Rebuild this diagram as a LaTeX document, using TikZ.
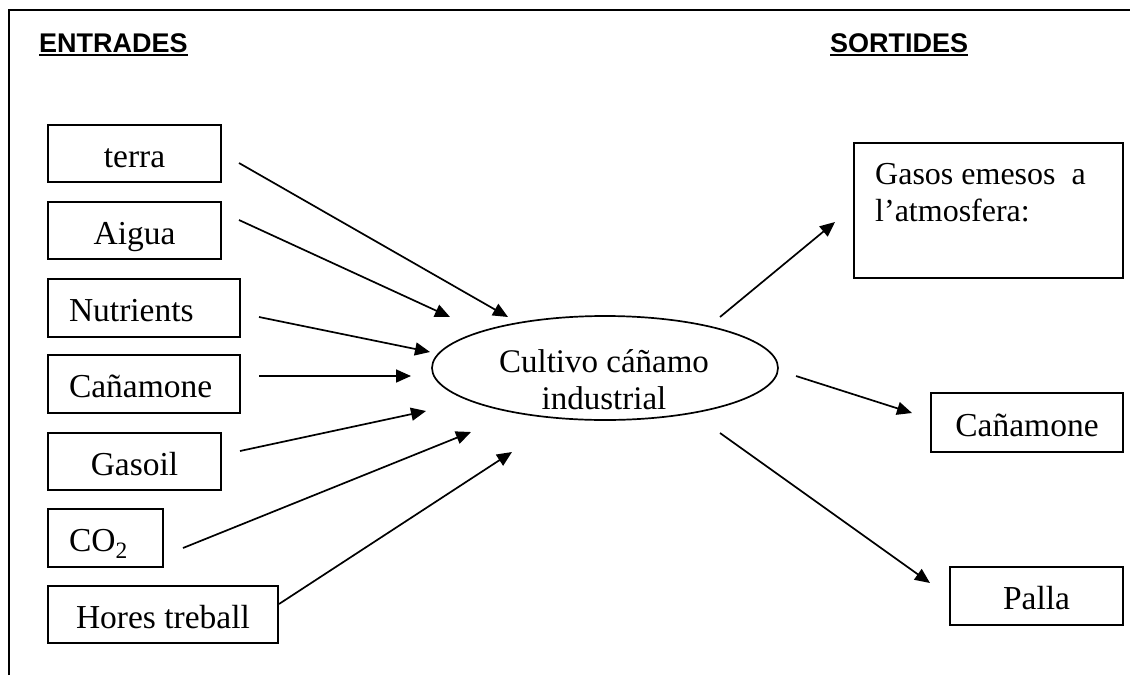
\documentclass[tikz,border=0pt]{standalone}
\usepackage{fontspec}
\setmainfont{Liberation Serif}
\newfontfamily\hdfont{Liberation Sans}
\usetikzlibrary{arrows.meta,shapes.geometric}
\begin{document}
\begin{tikzpicture}[x=1pt,y=-1pt,
  frameline/.style={line width=1.5pt},
  inbox/.style={draw, line width=1.8pt, inner sep=0pt, text height=27pt, text depth=0pt, font=\fontsize{33.5}{40}\selectfont},
  leftbox/.style={inbox, align=left, inner xsep=21pt},
  flow/.style={line width=1.7pt, -{Triangle[length=15pt,width=13pt]}},
  hdr/.style={inner sep=0pt, anchor=base west, font=\hdfont\bfseries\fontsize{27}{32}\selectfont},
  uline/.style={line width=2.5pt}]
\useasboundingbox (0,0) rectangle (1130,675);
% frame
\draw[frameline] (9,675) -- (9,10) -- (1130,10);
% headers
\node[hdr] (entr) at (39,52) {ENTRADES};
\node[hdr] (sort) at (830,52) {SORTIDES};
\draw[uline] ([yshift=-3pt]entr.base west) -- ([yshift=-3pt]entr.base east);
\draw[uline] ([yshift=-3pt]sort.base west) -- ([yshift=-3pt]sort.base east);
% input boxes
\node[inbox, minimum width=173pt, minimum height=57pt] (terra) at (134.5,153.5) {terra};
\node[inbox, minimum width=173pt, minimum height=57pt] (aigua) at (134.5,230.5) {Aigua};
\node[leftbox, text width=150pt, minimum height=58pt] (nutr) at (144,308) {Nutrients};
\node[leftbox, text width=150pt, minimum height=58pt] (canl) at (144,384) {Cañamone};
\node[inbox, minimum width=173pt, minimum height=57pt] (gasoil) at (134.5,461.5) {Gasoil};
\node[leftbox, text width=73pt, minimum height=58pt] (co2) at (105.5,538) {CO\textsubscript{2}};
\node[inbox, minimum width=230pt, minimum height=57pt] (hores) at (163,614.5) {Hores treball};
% central ellipse
\node[draw, ellipse, line width=1.7pt, minimum width=346pt, minimum height=104pt, inner sep=0pt] (crop) at (605,368) {};
\begin{scope}
\clip (430,316) rectangle (780,409.5);
\node[inner sep=0pt, anchor=north, align=center, font=\fontsize{33}{36.5}\selectfont] (croptxt) at (604,349.5) {Cultivo cáñamo\\industrial};
\end{scope}
% output boxes
\node[draw, line width=1.8pt, minimum width=269pt, minimum height=135pt, inner sep=0pt] (gasos) at (988.5,210.5) {};
\node[inner sep=0pt, anchor=north west, align=left, font=\fontsize{32}{37}\selectfont] (gasostxt) at (875,163) {Gasos emesos\ \ a\\l’atmosfera:};
\node[inbox, minimum width=192pt, minimum height=59pt] (canr) at (1027,422.5) {Cañamone};
\node[inbox, minimum width=173pt, minimum height=58pt] (palla) at (1036.5,596) {Palla};
% connector ends
\coordinate (a1s) at (239,163); \coordinate (a1e) at (508,317);
\coordinate (a2s) at (239,220); \coordinate (a2e) at (450,317);
\coordinate (a3s) at (259,317); \coordinate (a3e) at (430,352);
\coordinate (a4s) at (259,376); \coordinate (a4e) at (411,376);
\coordinate (a5s) at (240,451); \coordinate (a5e) at (426,411);
\coordinate (a6s) at (183,548); \coordinate (a6e) at (471,432);
\coordinate (a7s) at (279,604); \coordinate (a7e) at (512,452);
\coordinate (b1s) at (720,317); \coordinate (b1e) at (835,222);
\coordinate (b2s) at (796,376); \coordinate (b2e) at (912,413);
\coordinate (b3s) at (720,433); \coordinate (b3e) at (930,583);
% connectors
\foreach \c in {a1,a2,a3,a4,a5,a6,a7,b1,b2,b3}
  \draw[flow] (\c s) -- (\c e);
\end{tikzpicture}
\end{document}
